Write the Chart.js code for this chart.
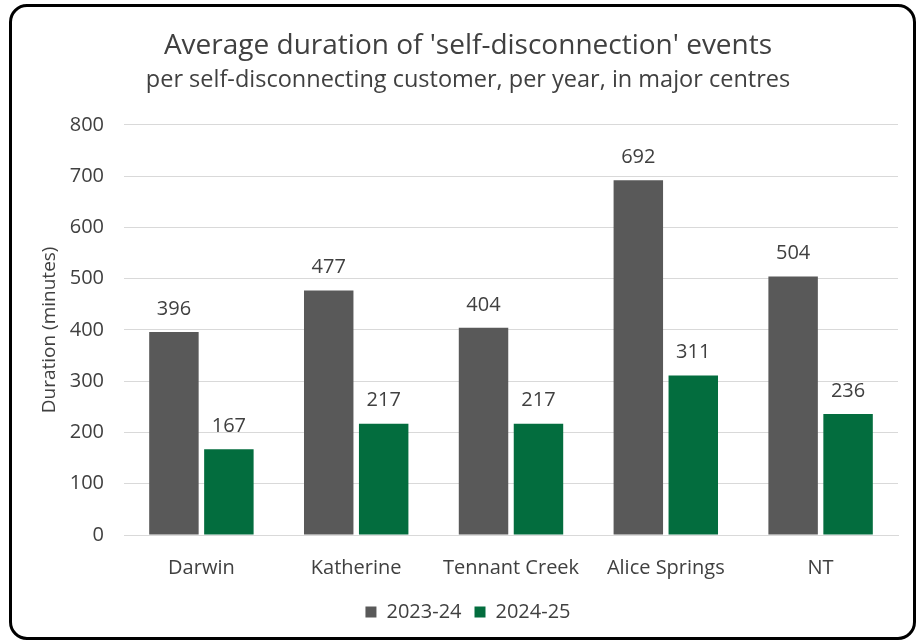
<!DOCTYPE html>
<html>
<head>
<meta charset="utf-8">
<script src="https://cdn.jsdelivr.net/npm/chart.js@4/dist/chart.umd.min.js"></script>
<style>
  html, body { margin: 0; padding: 0; background: #fff; }
  #wrap { position: relative; width: 918px; height: 640px; }
  #frame {
    position: absolute; left: 9px; top: 4px; width: 901px; height: 630px;
    border: 3px solid #000; border-radius: 18px; pointer-events: none;
  }
  canvas { position: absolute; left: 0; top: 0; }
</style>
</head>
<body>
<div id="wrap">
  <canvas id="chart" width="918" height="640"></canvas>
  <div id="frame"></div>
</div>
<script>
const categories = ['Darwin', 'Katherine', 'Tennant Creek', 'Alice Springs', 'NT'];
const series2023 = [396, 477, 404, 692, 504];
const series2024 = [167, 217, 217, 311, 236];
const seriesNames = ['2023-24', '2024-25'];
const yTicks = [0, 100, 200, 300, 400, 500, 600, 700, 800];

const FONT = '"Open Sans", sans-serif';
const TEXT = '#404040';

// Value labels drawn above each bar
const valueLabels = {
  id: 'valueLabels',
  afterDatasetsDraw(chart) {
    const ctx = chart.ctx;
    ctx.save();
    ctx.font = '20px ' + FONT;
    ctx.fillStyle = TEXT;
    ctx.textAlign = 'center';
    ctx.textBaseline = 'middle';
    chart.data.datasets.forEach((ds, i) => {
      chart.getDatasetMeta(i).data.forEach((bar, j) => {
        ctx.fillText(String(ds.data[j]), bar.x, bar.y - 23);
      });
    });
    ctx.restore();
  }
};

new Chart(document.getElementById('chart'), {
  type: 'bar',
  data: {
    labels: categories,
    datasets: [
      { label: seriesNames[0], data: series2023, backgroundColor: '#595959' },
      { label: seriesNames[1], data: series2024, backgroundColor: '#036d3e' }
    ]
  },
  options: {
    responsive: false,
    animation: false,
    devicePixelRatio: 1,
    layout: { padding: { left: 38, right: 20, top: 29, bottom: 8 } },
    datasets: { bar: { categoryPercentage: 0.71, barPercentage: 0.9 } },
    plugins: {
      title: {
        display: true,
        text: "Average duration of 'self-disconnection' events",
        color: TEXT,
        font: { family: FONT, size: 28, weight: 'normal' },
        padding: { top: 0, bottom: 4 }
      },
      subtitle: {
        display: true,
        text: 'per self-disconnecting customer, per year, in major centres',
        color: TEXT,
        font: { family: FONT, size: 23.5, weight: 'normal' },
        padding: { top: 0, bottom: 30 }
      },
      legend: {
        position: 'bottom',
        labels: {
          color: TEXT,
          font: { family: FONT, size: 20 },
          boxWidth: 11, boxHeight: 11, padding: 13
        }
      },
      tooltip: { enabled: false }
    },
    scales: {
      x: {
        afterFit(scale) { scale.height = 54; },
        grid: { display: false },
        border: { color: '#d9d9d9', width: 1 },
        ticks: { color: TEXT, font: { family: FONT, size: 20 }, padding: 13 }
      },
      y: {
        min: 0, max: 800,
        afterBuildTicks(scale) { scale.ticks = yTicks.map(v => ({ value: v })); },
        afterFit(scale) { scale.width = 86; },
        grid: { color: '#d9d9d9', drawTicks: false },
        border: { display: false },
        ticks: { color: TEXT, font: { family: FONT, size: 20 }, padding: 20 },
        title: {
          display: true, text: 'Duration (minutes)', color: TEXT,
          font: { family: FONT, size: 19 }, padding: { top: 0, bottom: 0 }
        }
      }
    }
  },
  plugins: [valueLabels]
});
</script>
</body>
</html>
